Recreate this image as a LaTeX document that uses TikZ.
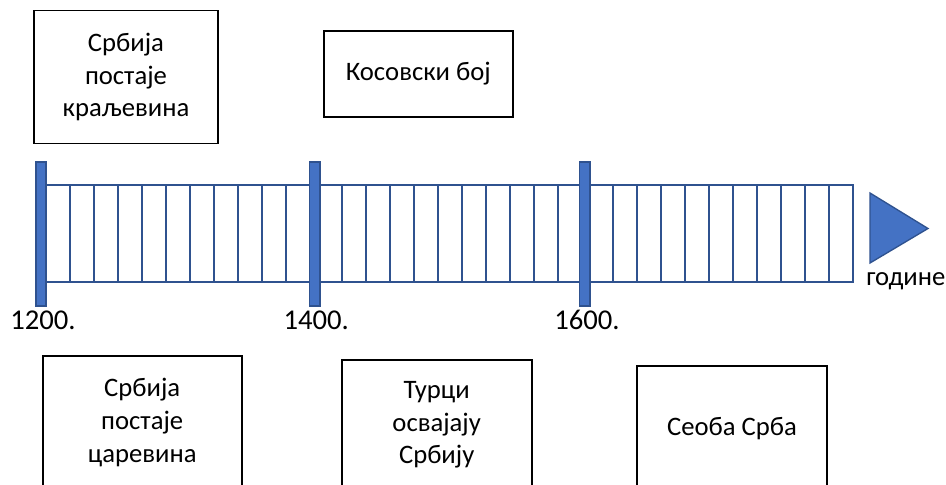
\documentclass[tikz,border=0pt]{standalone}
\usepackage{fontspec}
\setmainfont{Carlito}
\definecolor{barfill}{HTML}{4472C4}
\definecolor{barline}{HTML}{2F528F}
\begin{document}
\begin{tikzpicture}[x=0.75pt,y=-0.75pt,
  eventbox/.style={draw=black,line width=1.3pt,fill=white,align=center,inner sep=0pt,
     font=\fontsize{20}{24.5}\selectfont},
  yearbar/.style={draw=barline,fill=barfill,line width=1.2pt,inner sep=0pt,minimum width=7.9pt,minimum height=108pt},
  yearlabel/.style={anchor=base west,inner sep=0pt,font=\fontsize{21.5}{24}\selectfont},
  axislabel/.style={anchor=base west,inner sep=0pt,font=\fontsize{20}{24}\selectfont},
  cell/.style={draw=barline,line width=1.5pt}]
\useasboundingbox (0,0) rectangle (946,485);
\clip (0,0) rectangle (946,485);
% strip
\draw[cell,fill=white] (41,185) rectangle (853,282);
\foreach \k in {0,...,9}{
  \draw[cell] ({70+24*\k},185) -- ({70+24*\k},282);
  \draw[cell] ({341.7+24*\k},185) -- ({341.7+24*\k},282);
  \draw[cell] ({612.7+24.07*\k},185) -- ({612.7+24.07*\k},282);
}
% bars
\node[yearbar] (b1) at (41,234) {};
\node[yearbar] (b2) at (314.7,234) {};
\node[yearbar] (b3) at (584.7,234) {};
% arrow head
\draw[draw=barline,fill=barfill,line width=1pt] (870,193) -- (928,228.5) -- (870,263) -- cycle;
% labels
\node[yearlabel] (y1) at (10,329) {1200.};
\node[yearlabel] (y2) at (283.3,329) {1400.};
\node[yearlabel] (y3) at (554,329) {1600.};
\node[axislabel] (god) at (866,285) {године};
% boxes
\node[eventbox,minimum width=138pt,minimum height=99.75pt] (t1) at (126,77) {Србија\\постаје\\краљевина};
\node[eventbox,minimum width=141.5pt,minimum height=64.5pt] (t2) at (418.3,73.7) {Косовски бој};
\node[eventbox,minimum width=149.25pt,minimum height=99.75pt] (d1) at (142.2,422.5) {Србија\\постаје\\царевина};
\node[eventbox,minimum width=142.5pt,minimum height=97.5pt] (d2) at (436.7,425) {Турци\\освајају\\Србију};
\node[eventbox,minimum width=142pt,minimum height=94pt] (d3) at (732,428.3) {Сеоба Срба};
\end{tikzpicture}
\end{document}
